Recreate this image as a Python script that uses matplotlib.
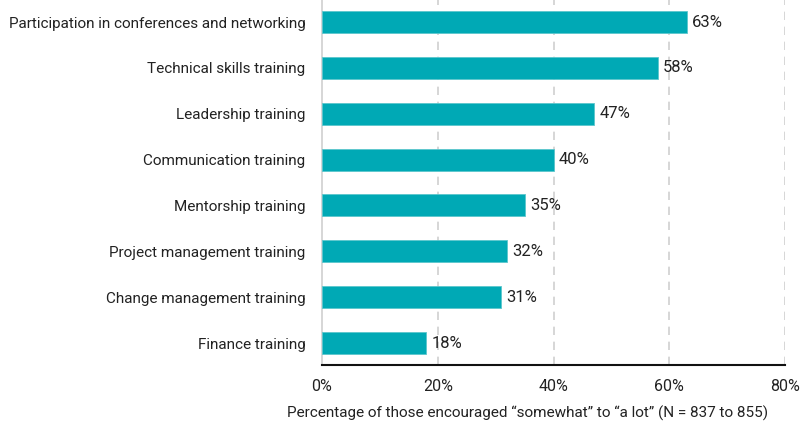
import matplotlib
matplotlib.use("Agg")
import matplotlib.pyplot as plt

# data
categorias = [
    "Participation in conferences and networking",
    "Technical skills training",
    "Leadership training",
    "Communication training",
    "Mentorship training",
    "Project management training",
    "Change management training",
    "Finance training",
]
valores = [63, 58, 47, 40, 35, 32, 31, 18]
ticks_x = [0, 20, 40, 60, 80]
rotulo_x = "Percentage of those encouraged \u201csomewhat\u201d to \u201ca lot\u201d (N = 837 to 855)"

plt.rcParams["font.family"] = ["Roboto", "DejaVu Sans"]

fig = plt.figure(figsize=(8, 4.25), dpi=100)
ax = fig.add_axes([0.4025, 0.141, 0.57875, 0.859])

pos = list(range(len(categorias)))
ax.barh(pos, valores, height=0.48, color="#00A9B5", edgecolor="#5cc6cd", linewidth=0.6, zorder=3)
for p, v in zip(pos, valores):
    ax.text(v + 0.9, p, f"{v}%", va="center", ha="left", fontsize=12, color="#222222", zorder=4)

ax.set_ylim(len(categorias) - 0.52, -0.48)
ax.set_xlim(0, 80)
ax.set_yticks(pos)
ax.set_yticklabels(categorias, fontsize=11, color="#222222")
ax.set_xticks(ticks_x)
ax.set_xticklabels([f"{t}%" for t in ticks_x], fontsize=11.5, color="#222222")
ax.tick_params(axis="both", length=0)
ax.tick_params(axis="y", pad=12)
ax.tick_params(axis="x", pad=10)

for t in ticks_x[1:]:
    ax.axvline(t, color="#d0d0d0", linestyle=(0, (5, 4)), linewidth=1.2, zorder=1)

for s in ["top", "right"]:
    ax.spines[s].set_visible(False)
ax.spines["left"].set_color("#d0d0d0")
ax.spines["left"].set_linewidth(1.2)
ax.spines["bottom"].set_color("#111111")
ax.spines["bottom"].set_linewidth(1.5)
ax.spines["bottom"].set_zorder(5)

ax.set_xlabel(rotulo_x, fontsize=11, color="#222222")
ax.xaxis.set_label_coords(0.443, -0.11)

fig.savefig("out.png", dpi=100)
